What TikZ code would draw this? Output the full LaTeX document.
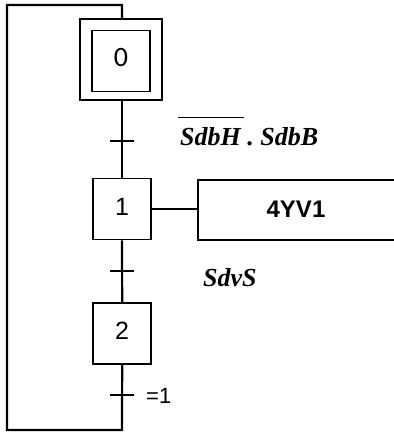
\documentclass[tikz,border=0pt]{standalone}
\usepackage{fontspec}
\setmainfont{Liberation Sans}
\newfontfamily\serifbi{Liberation Serif}
\newfontfamily\zerofont{Carlito}
\begin{document}
\begin{tikzpicture}[x=1pt,y=-1pt,
  link/.style={line width=2.2pt},
  actlink/.style={line width=1.6pt},
  stepbox/.style={draw,line width=1.8pt,minimum width=58pt,minimum height=61pt,inner sep=0pt,text depth=5pt,font=\fontsize{25}{25}\selectfont},
  tick/.style={line width=2pt},
  cond/.style={font=\serifbi\bfseries\itshape\fontsize{26}{26}\selectfont,anchor=base west,inner sep=0pt}]
\useasboundingbox (0,0) rectangle (394,432);
\node[stepbox,text depth=8pt,font=\zerofont\fontsize{28}{28}\selectfont] (s0) at (121,61) {0};
\node[draw,line width=1.8pt,minimum width=82pt,minimum height=81pt,inner sep=0pt] (s0o) at (121,59.5) {};
\node[stepbox] (s1) at (122,209) {1};
\node[stepbox] (s2) at (122.2,333.5) {2};
% action box (right side open, runs off the page)
\coordinate (a1) at (198,180);
\coordinate (a2) at (198,240);
\coordinate (a3) at (396,180);
\coordinate (a4) at (396,240);
\draw[line width=1.8pt] (a3) -- (a1) -- (a2) -- (a4);
\node[font=\bfseries\fontsize{24}{24}\selectfont] (act) at (296,209.5) {4YV1};
\draw[actlink] (s1.east) -- (s1.east -| a1);
% links
\draw[link] (s0o.south -| s1.north) -- (s1.north);
\draw[link] (s1.south) -- (s2.north);
\coordinate (c1) at (122,5);
\coordinate (c2) at (7,5);
\coordinate (c3) at (7,430);
\coordinate (c4) at (122,430);
\draw[link] (s0o.north -| c1) -- (c1) -- (c2) -- (c3) -- (c4) -- (s2.south);
% transitions
\coordinate (t1) at (122,141);
\coordinate (t2) at (122,271);
\coordinate (t3) at (122,395);
\draw[tick] ([xshift=-12pt]t1) -- ([xshift=12pt]t1);
\draw[tick] ([xshift=-12pt]t2) -- ([xshift=12pt]t2);
\draw[tick] ([xshift=-12pt]t3) -- ([xshift=12pt]t3);
\node[cond] (l1) at (180,145) {SdbH . SdbB};
\draw[line width=1.6pt] (178,117.5) -- (244,117.5);
\node[cond] (l2) at (203,286) {SdvS};
\node[font=\fontsize{22}{22}\selectfont,anchor=base west,inner sep=0pt] (l3) at (146,403) {=1};
\end{tikzpicture}
\end{document}
